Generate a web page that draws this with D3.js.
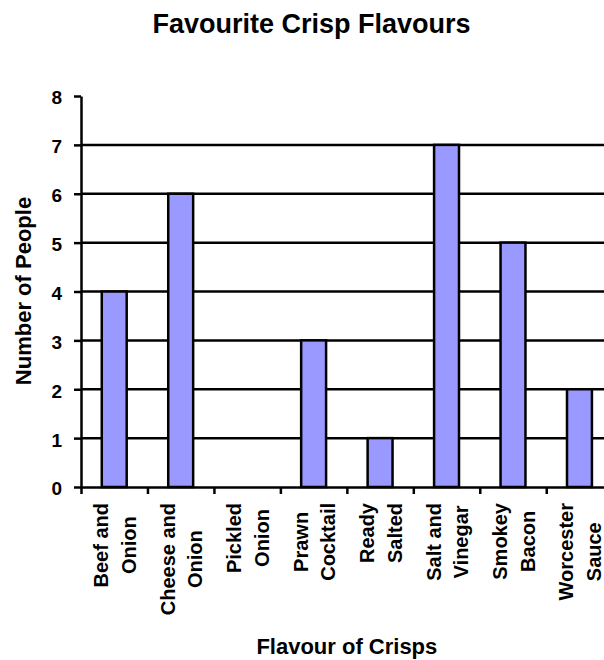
<!DOCTYPE html>
<html>
<head>
<meta charset="utf-8">
<script src="https://cdn.jsdelivr.net/npm/d3@7"></script>
<style>
  body { margin: 0; background: #fff; }
  svg { display: block; }
  text { font-family: "Liberation Sans", Arial, Helvetica, sans-serif; fill: #000; }
</style>
</head>
<body>
<script>
// Survey results: favourite crisp flavours
const flavours = [
  ["Beef and", "Onion"],
  ["Cheese and", "Onion"],
  ["Pickled", "Onion"],
  ["Prawn", "Cocktail"],
  ["Ready", "Salted"],
  ["Salt and", "Vinegar"],
  ["Smokey", "Bacon"],
  ["Worcester", "Sauce"]
];
const people = [4, 6, 0, 3, 1, 7, 5, 2];
const yTicks = [0, 1, 2, 3, 4, 5, 6, 7, 8];
const chartTitle = "Favourite Crisp Flavours";
const xTitle = "Flavour of Crisps";
const yTitle = "Number of People";

const W = 604, H = 660;
const plot = { left: 81, right: 612.7, top: 96, bottom: 487 };
const LINE = 2.5;

const svg = d3.select("body").append("svg")
  .attr("width", W).attr("height", H);

const x = d3.scaleBand()
  .domain(d3.range(flavours.length))
  .range([plot.left, plot.right])
  .padding(0);
// category boundaries, used for the tick marks between categories
const xEdge = d3.scaleLinear()
  .domain([0, flavours.length])
  .range([plot.left, plot.right]);
const y = d3.scaleLinear()
  .domain([0, 8])
  .range([plot.bottom, plot.top]);

// horizontal gridlines
svg.append("g")
  .selectAll("line")
  .data(yTicks.filter(v => v > 0 && v < 8))
  .join("line")
  .attr("x1", plot.left).attr("x2", plot.right)
  .attr("y1", d => y(d)).attr("y2", d => y(d))
  .attr("stroke", "#000").attr("stroke-width", LINE);

// bars
const barW = x.bandwidth() * 0.375;
svg.append("g")
  .selectAll("rect")
  .data(people.map((v, i) => ({ v, i })).filter(d => d.v > 0))
  .join("rect")
  .attr("x", d => x(d.i) + (x.bandwidth() - barW) / 2)
  .attr("y", d => y(d.v))
  .attr("width", barW)
  .attr("height", d => y(0) - y(d.v))
  .attr("fill", "#9999ff")
  .attr("stroke", "#000")
  .attr("stroke-width", LINE);

// y axis
const yAxis = svg.append("g")
  .attr("transform", `translate(${plot.left},0)`)
  .call(d3.axisLeft(y).tickValues(yTicks).tickFormat(d3.format("d"))
    .tickSize(7).tickSizeOuter(0));
yAxis.select(".domain").attr("stroke", "#000").attr("stroke-width", LINE);
yAxis.selectAll(".tick line").attr("stroke", "#000").attr("stroke-width", LINE);
yAxis.selectAll(".tick text")
  .attr("x", -19)
  .attr("dy", "0.42em")
  .style("font-size", "19px")
  .style("font-weight", "bold");

// x axis: tick marks at category boundaries
const xAxis = svg.append("g")
  .attr("transform", `translate(0,${plot.bottom})`)
  .call(d3.axisBottom(xEdge).tickValues(d3.range(flavours.length + 1))
    .tickFormat("").tickSize(7).tickSizeOuter(0));
xAxis.select(".domain").attr("stroke", "#000").attr("stroke-width", LINE);
xAxis.selectAll(".tick line").attr("stroke", "#000").attr("stroke-width", LINE);

// category labels, two lines each, rotated to read bottom-to-top
const labelTop = 503;
const lineOffsets = [-6, 21.5];
flavours.forEach((lines, i) => {
  const cx = x(i) + x.bandwidth() / 2;
  const g = svg.append("g");
  const texts = lines.map(t => g.append("text")
    .attr("text-anchor", "middle")
    .style("font-size", "20px")
    .style("font-weight", "bold")
    .text(t));
  const maxLen = d3.max(texts, t => t.node().getComputedTextLength());
  const cy = labelTop + maxLen / 2;
  texts.forEach((t, j) => {
    t.attr("transform", `translate(${cx + lineOffsets[j]},${cy}) rotate(-90)`);
  });
});

// titles
svg.append("text")
  .attr("x", 311.5).attr("y", 33)
  .attr("text-anchor", "middle")
  .style("font-size", "27px").style("font-weight", "bold")
  .text(chartTitle);

svg.append("text")
  .attr("x", (plot.left + plot.right) / 2).attr("y", 654)
  .attr("text-anchor", "middle")
  .style("font-size", "22px").style("font-weight", "bold")
  .text(xTitle);

svg.append("text")
  .attr("transform", `translate(31,291) rotate(-90)`)
  .attr("text-anchor", "middle")
  .style("font-size", "22px").style("font-weight", "bold")
  .text(yTitle);
</script>
</body>
</html>
